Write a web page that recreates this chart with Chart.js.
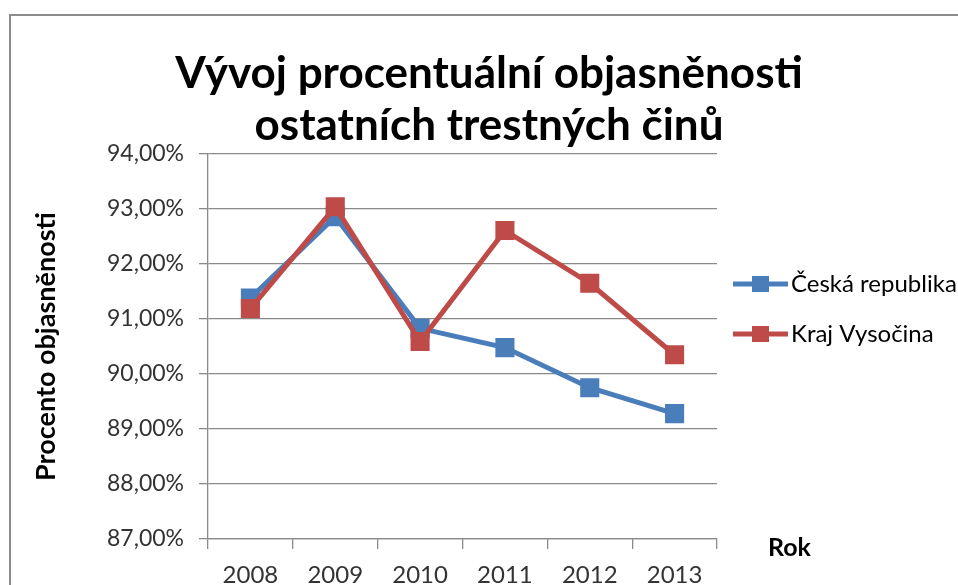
<!DOCTYPE html>
<html>
<head>
<meta charset="utf-8">
<script src="https://cdn.jsdelivr.net/npm/chart.js@4.4.1/dist/chart.umd.min.js"></script>
<style>
  html, body { margin: 0; padding: 0; background: #fff; overflow: hidden; }
  #frame { position: absolute; left: 9px; top: 14px; width: 1100px; height: 700px; border: 2px solid #8c8c8c; }
  #statsChart { position: absolute; left: 0; top: 0; }
</style>
</head>
<body>
<div id="frame"></div>
<canvas id="statsChart" width="976" height="585"></canvas>
<script>
// chart data
const years = ['2008', '2009', '2010', '2011', '2012', '2013'];
const ceskaRepublika = [91.38, 92.86, 90.83, 90.48, 89.75, 89.28];
const krajVysocina = [91.19, 93.04, 90.59, 92.61, 91.65, 90.35];
const yTicks = [87, 88, 89, 90, 91, 92, 93, 94];
const titleLines = ['Vývoj procentuální objasněnosti', 'ostatních trestných činů'];

const FONT = 'Lato, "Open Sans", sans-serif';
const BLUE = '#4a7ebb';
const RED = '#be4b48';

// title (centred on the whole frame), "Rok" label and the line+square legend
const extras = {
    id: 'extras',
    afterDraw(chart) {
        const c = chart.ctx;
        const area = chart.chartArea;
        c.save();
        c.fillStyle = '#000';
        c.textAlign = 'center';
        c.textBaseline = 'alphabetic';
        c.font = 'bold 44px ' + FONT;
        titleLines.forEach(function (t, i) {
            c.fillText(t, 489, 88 + i * 52);
        });

        c.textAlign = 'left';
        c.textBaseline = 'middle';
        c.font = 'bold 25px ' + FONT;
        c.fillText('Rok', area.right + 51, area.bottom + 9);

        c.font = '24px ' + FONT;
        chart.data.datasets.forEach(function (ds, i) {
            const y = area.top + 130 + i * 50;
            const x0 = area.right + 16;
            c.strokeStyle = ds.borderColor;
            c.lineWidth = 5;
            c.beginPath();
            c.moveTo(x0, y);
            c.lineTo(x0 + 55, y);
            c.stroke();
            c.fillStyle = ds.borderColor;
            c.fillRect(x0 + 19, y - 8, 17, 16);
            c.fillStyle = '#000';
            c.fillText(ds.label, x0 + 58, y);
        });
        c.restore();
    }
};

const ctx = document.getElementById('statsChart');
new Chart(ctx, {
    type: 'line',
    data: {
        labels: years,
        datasets: [{
            label: 'Česká republika',
            data: ceskaRepublika,
            borderColor: BLUE,
            backgroundColor: BLUE,
            borderWidth: 5,
            pointStyle: 'rect',
            pointRadius: 13.5,
            pointBorderWidth: 0,
            tension: 0,
            order: 1
        }, {
            label: 'Kraj Vysočina',
            data: krajVysocina,
            borderColor: RED,
            backgroundColor: RED,
            borderWidth: 5,
            pointStyle: 'rect',
            pointRadius: 13.5,
            pointBorderWidth: 0,
            tension: 0,
            order: 0
        }]
    },
    options: {
        responsive: false,
        animation: false,
        layout: { padding: { left: 10, right: 259, top: 154, bottom: 0 } },
        scales: {
            y: {
                min: 87,
                max: 94,
                afterBuildTicks: function (scale) {
                    scale.ticks = yTicks.map(v => ({ value: v }));
                },
                afterFit: function (scale) { scale.width = 198; },
                ticks: {
                    color: '#333',
                    font: { family: FONT, size: 23 },
                    padding: 15,
                    callback: v => v.toFixed(2).replace('.', ',') + '%'
                },
                grid: { color: '#8a8a8a', lineWidth: 1.3, tickLength: 9 },
                border: { color: '#8a8a8a', width: 1.3 },
                title: {
                    display: true,
                    text: 'Procento objasněnosti',
                    color: '#000',
                    font: { family: FONT, size: 27, weight: 'bold' },
                    padding: { top: 20, bottom: 0 }
                }
            },
            x: {
                offset: true,
                afterFit: function (scale) { scale.height = 46; },
                ticks: {
                    color: '#333',
                    font: { family: FONT, size: 24 },
                    padding: 12
                },
                grid: { offset: true, drawOnChartArea: false, color: '#8a8a8a', lineWidth: 1.3, tickLength: 10 },
                border: { color: '#8a8a8a', width: 1.3 }
            }
        },
        plugins: {
            legend: { display: false },
            tooltip: { enabled: false },
            title: { display: false }
        }
    },
    plugins: [extras]
});
</script>
</body>
</html>
